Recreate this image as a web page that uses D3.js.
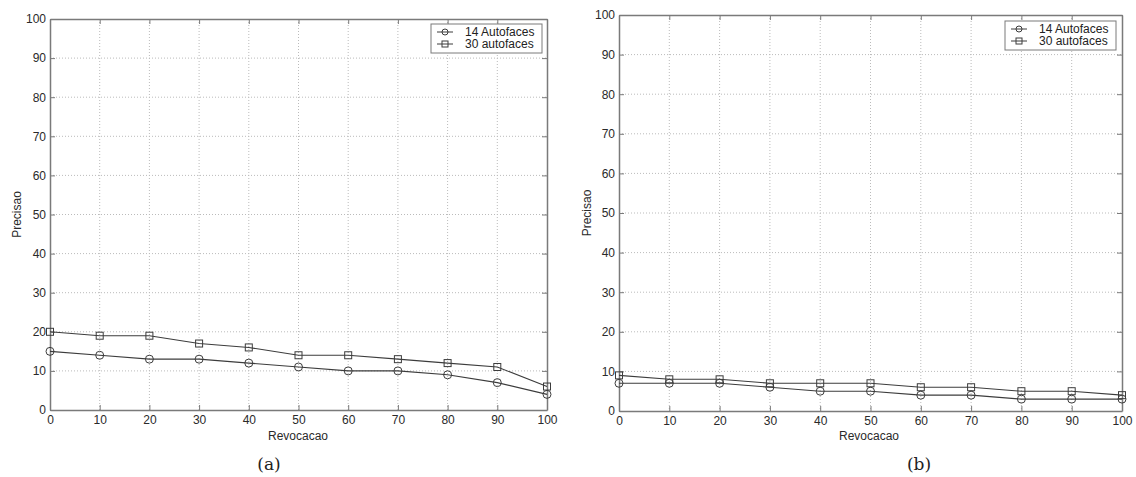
<!DOCTYPE html>
<html><head><meta charset="utf-8">
<script src="https://cdn.jsdelivr.net/npm/d3@7"></script>
<style>body{margin:0;background:#fff}svg{display:block}</style>
</head><body>
<svg id="c" width="1136" height="477"></svg>
<script>
const recall = [0,10,20,30,40,50,60,70,80,90,100];
const xTicks = [0,10,20,30,40,50,60,70,80,90,100];
const yTicks = [0,10,20,30,40,50,60,70,80,90,100];
const seriesNames = ["14 Autofaces","30 autofaces"];
const panelA14 = [15,14,13,13,12,11,10,10,9,7,4];
const panelA30 = [20,19,19,17,16,14,14,13,12,11,6];
const panelB14 = [7,7,7,6,5,5,4,4,3,3,3];
const panelB30 = [9,8,8,7,7,7,6,6,5,5,4];
const panelLabels = ["(a)","(b)"];
const xTitle = "Revocacao", yTitle = "Precisao";

const svg = d3.select("#c");
const font = "'Liberation Sans', Arial, sans-serif";

const panels = [
  {x0:50,x1:547,y0:19,y1:410, s14:panelA14, s30:panelA30, label:panelLabels[0], labelX:269, titleX:298, yTitleX:17,
   leg:{x:431,y:24,w:111,h:29}},
  {x0:619,x1:1122,y0:15,y1:411, s14:panelB14, s30:panelB30, label:panelLabels[1], labelX:919, titleX:869, yTitleX:587,
   leg:{x:1005,y:21,w:111,h:29}}
];

const lineCol = "#3c3c3c", axisCol = "#7a7a7a", textCol = "#2a2a2a";

panels.forEach(p => {
  const x = d3.scaleLinear().domain([0,100]).range([p.x0,p.x1]);
  const y = d3.scaleLinear().domain([0,100]).range([p.y1,p.y0]);
  const g = svg.append("g");
  // grid
  g.append("g").selectAll("line").data(xTicks.slice(1,-1)).join("line")
    .attr("x1",d=>x(d)).attr("x2",d=>x(d)).attr("y1",p.y0).attr("y2",p.y1)
    .attr("stroke","#bbb").attr("stroke-width",1).attr("stroke-dasharray","1,2");
  g.append("g").selectAll("line").data(yTicks.slice(1,-1)).join("line")
    .attr("y1",d=>y(d)).attr("y2",d=>y(d)).attr("x1",p.x0).attr("x2",p.x1)
    .attr("stroke","#bbb").attr("stroke-width",1).attr("stroke-dasharray","1,2");
  // axes
  const ax = g.append("g").attr("transform",`translate(0,${p.y1})`)
    .call(d3.axisBottom(x).tickValues(xTicks).tickSize(-5).tickPadding(5).tickSizeOuter(0));
  const ay = g.append("g").attr("transform",`translate(${p.x0},0)`)
    .call(d3.axisLeft(y).tickValues(yTicks).tickSize(-5).tickPadding(4).tickSizeOuter(0));
  const axt = g.append("g").attr("transform",`translate(0,${p.y0})`)
    .call(d3.axisTop(x).tickValues(xTicks).tickSize(-5).tickFormat("").tickSizeOuter(0));
  const ayr = g.append("g").attr("transform",`translate(${p.x1},0)`)
    .call(d3.axisRight(y).tickValues(yTicks).tickSize(-5).tickFormat("").tickSizeOuter(0));
  [ax,ay,axt,ayr].forEach(a=>{
    a.select(".domain").attr("stroke",axisCol).attr("stroke-width",1.5);
    a.selectAll(".tick line").attr("stroke",axisCol);
    a.selectAll("text").attr("fill",textCol).attr("font-family",font).attr("font-size",12);
  });
  // series
  const line = d3.line().x((d,i)=>x(recall[i])).y(d=>y(d));
  [p.s14,p.s30].forEach((s,k)=>{
    g.append("path").datum(s).attr("d",line).attr("fill","none").attr("stroke",lineCol).attr("stroke-width",1.1);
    const m = g.append("g").selectAll("g").data(s).join("g")
      .attr("transform",(d,i)=>`translate(${x(recall[i])},${y(d)})`);
    if(k===0) m.append("circle").attr("r",4).attr("fill","none").attr("stroke",lineCol);
    else m.append("rect").attr("x",-3.5).attr("y",-3.5).attr("width",7).attr("height",7).attr("fill","none").attr("stroke",lineCol);
  });
  // titles
  g.append("text").attr("x",p.titleX).attr("y",440).attr("text-anchor","middle")
    .attr("font-family",font).attr("font-size",12).attr("fill",textCol).text(xTitle);
  g.append("text").attr("transform",`translate(${p.yTitleX},${(p.y0+p.y1)/2}) rotate(-90)`)
    .attr("text-anchor","middle").attr("dy","0.35em")
    .attr("font-family",font).attr("font-size",12).attr("fill",textCol).text(yTitle);
  g.append("text").attr("x",p.labelX).attr("y",470).attr("text-anchor","middle")
    .attr("font-family","'DejaVu Serif','Liberation Serif',serif").attr("font-size",17).attr("fill","#222").text(p.label);
  // legend
  const L = p.leg;
  g.append("rect").attr("x",L.x).attr("y",L.y).attr("width",L.w).attr("height",L.h)
    .attr("fill","#fff").attr("stroke",axisCol).attr("stroke-width",1);
  seriesNames.forEach((n,k)=>{
    const cy = L.y+8+k*12;
    g.append("line").attr("x1",L.x+6).attr("x2",L.x+22).attr("y1",cy).attr("y2",cy).attr("stroke",lineCol);
    if(k===0) g.append("circle").attr("cx",L.x+14).attr("cy",cy).attr("r",3).attr("fill","none").attr("stroke",lineCol);
    else g.append("rect").attr("x",L.x+11).attr("y",cy-3).attr("width",6).attr("height",6).attr("fill","none").attr("stroke",lineCol);
    g.append("text").attr("x",L.x+34).attr("y",cy).attr("dy","0.35em")
      .attr("font-family",font).attr("font-size",12).attr("fill","#222").text(n);
  });
});
</script>
</body></html>
